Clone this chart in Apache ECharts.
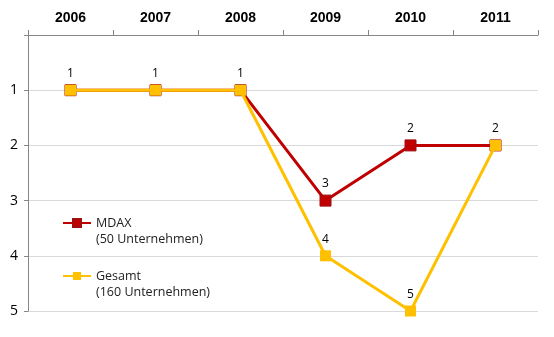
<!DOCTYPE html>
<html>
<head>
<meta charset="utf-8">
<script src="https://cdn.jsdelivr.net/npm/echarts@6/dist/echarts.min.js"></script>
<style>html,body{margin:0;padding:0;background:#fff;}#c{width:554px;height:337px;}</style>
</head>
<body>
<div id="c"></div>
<script>
var categories = ['2006', '2007', '2008', '2009', '2010', '2011'];
var mdax = [1, 1, 1, 3, 2, 2];
var gesamt = [1, 1, 1, 4, 5, 2];
var seriesNames = ['MDAX\n(50 Unternehmen)', 'Gesamt\n(160 Unternehmen)'];
var yTicks = [0, 1, 2, 3, 4, 5];

var chart = echarts.init(document.getElementById('c'));
var labelFont = {fontFamily: 'Open Sans', fontSize: 12, color: '#000'};
chart.setOption({
  animation: false,
  grid: {left: 28, right: 16, top: 35, bottom: 26},
  legend: {
    orient: 'vertical', left: 62, top: 199, padding: 0, itemGap: 5,
    itemWidth: 28, itemHeight: 10,
    textStyle: {fontFamily: 'Open Sans', fontSize: 12.5, color: '#222', lineHeight: 16},
    formatter: function (name) { return ' \n' + name; },
    data: seriesNames
  },
  xAxis: {
    type: 'category', position: 'top', data: categories, boundaryGap: true,
    axisLine: {lineStyle: {color: '#868686', width: 1}},
    axisTick: {show: true, length: 5, lineStyle: {color: '#868686'}},
    axisLabel: {fontFamily: 'Liberation Sans', fontWeight: 'bold', fontSize: 14, color: '#000', margin: 10},
    splitLine: {show: false}
  },
  yAxis: {
    type: 'value', inverse: true, min: yTicks[0], max: yTicks[yTicks.length - 1], interval: 1,
    axisLine: {show: true, lineStyle: {color: '#868686', width: 1}},
    axisTick: {show: true, length: 4, lineStyle: {color: '#868686'}},
    axisLabel: {fontFamily: 'Open Sans', fontSize: 14, color: '#000', margin: 10,
      formatter: function (v) { return v === 0 ? '' : String(v); }},
    splitLine: {show: true, lineStyle: {color: '#d9d9d9', width: 1}}
  },
  series: [
    {
      name: seriesNames[0], type: 'line', data: mdax,
      symbol: 'rect', symbolSize: 11,
      lineStyle: {color: '#C00000', width: 3},
      itemStyle: {color: '#C00000', borderColor: '#9e1010', borderWidth: 1},
      label: Object.assign({show: true, position: 'top', distance: 5}, labelFont),
      z: 2
    },
    {
      name: seriesNames[1], type: 'line',
      data: gesamt.map(function (v, i) {
        return {value: v, label: {show: v !== mdax[i]}};
      }),
      symbol: 'rect', symbolSize: 11,
      lineStyle: {color: '#FFC000', width: 3},
      itemStyle: {color: '#FFC000', borderColor: '#FFC000', borderWidth: 0},
      label: Object.assign({show: true, position: 'top', distance: 5}, labelFont),
      z: 3
    }
  ]
});
</script>
</body>
</html>
